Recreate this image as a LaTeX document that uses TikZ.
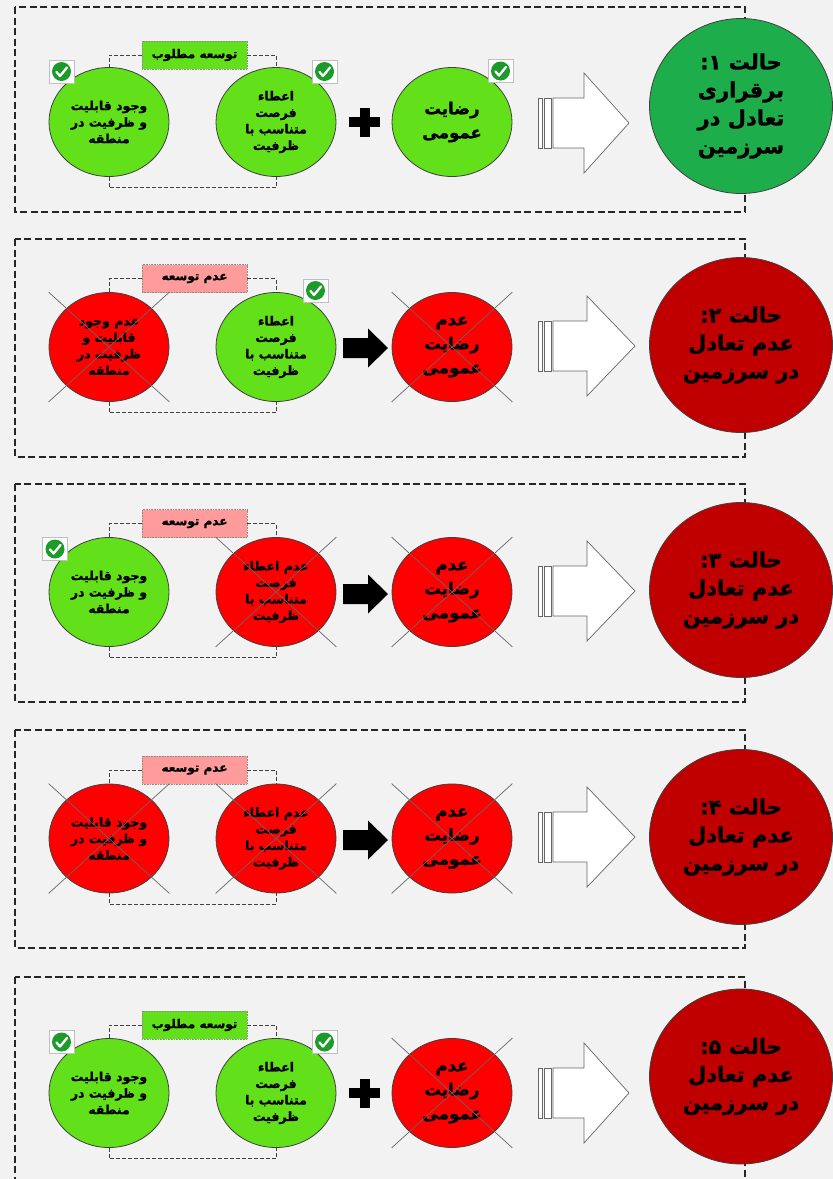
\documentclass[tikz,border=0pt]{standalone}
\usepackage{fontspec}
\newfontfamily\arb[Script=Arabic,BoldFeatures={FakeBold=1.3}]{DejaVu Sans}
\TeXXeTstate=1
\usetikzlibrary{shapes.geometric}
\definecolor{bgc}{HTML}{F2F2F2}
\definecolor{lgreen}{HTML}{62E01A}
\definecolor{dgreen}{HTML}{1DAE4B}
\definecolor{bred}{HTML}{FF0000}
\definecolor{dred}{HTML}{C00000}
\definecolor{pinkl}{HTML}{FF9B9B}
\definecolor{chkg}{HTML}{1C9A2A}
\newcommand\rl[1]{\beginR #1\endR}
\tikzset{
 rowbox/.style={draw=black!85,line width=1.5pt,dash pattern=on 7pt off 3.5pt},
 brk/.style={draw=black!75,line width=1pt,dash pattern=on 4pt off 2pt},
 smallc/.style={ellipse,draw=black!75,line width=0.8pt,minimum width=120pt,minimum height=109pt,inner sep=0pt,align=center,font=\arb\bfseries\fontsize{12.5}{16.5}\selectfont},
 good/.style={smallc,fill=lgreen},
 bad/.style={smallc,fill=bred},
 bigtxt/.style={font=\arb\bfseries\fontsize{16.5}{24}\selectfont},
 bigc/.style={ellipse,draw=black!75,line width=0.8pt,minimum width=183pt,minimum height=175pt,inner sep=0pt,align=center,font=\arb\bfseries\fontsize{21}{28}\selectfont},
 lbl/.style={rectangle,draw=black!45,densely dotted,line width=0.6pt,minimum width=105pt,minimum height=28pt,inner sep=0pt,font=\arb\bfseries\fontsize{12}{14}\selectfont},
 crossln/.style={draw=black!60,line width=0.7pt},
 harrow/.style={draw=black!60,line width=0.7pt,fill=white},
 chk/.pic={
   \draw[draw=black!25,fill=white,line width=0.6pt] (-12.5,-11.5) rectangle (12.5,11.5);
   \fill[chkg] (0,0) circle (9.5pt);
   \draw[white,line width=2.3pt,line cap=round,line join=round] (-5,0.5) -- (-1.5,4.5) -- (5.5,-4);
 }
}
\newcommand\hollow[3]{%
 \draw[harrow] (538,#1-25) rectangle (542,#1+25);
 \draw[harrow] (544,#1-25) rectangle (551,#1+25);
 \draw[harrow] (553,#1-25) -- (#2,#1-25) -- (#2,#1-50) -- (#3,#1) -- (#2,#1+50) -- (#2,#1+25) -- (553,#1+25) -- cycle;}
\newcommand\plussign[1]{%
 \fill[black] (349,#1-5) rectangle (380,#1+5);
 \fill[black] (360,#1-14.5) rectangle (370,#1+14.5);}
\newcommand\blkarrow[1]{%
 \fill[black] (343,#1-10) -- (368,#1-10) -- (368,#1-19.5) -- (388,#1) -- (368,#1+19.5) -- (368,#1+10) -- (343,#1+10) -- cycle;}
\newcommand\xout[1]{%
 \draw[crossln] (#1.west|-#1.north) -- (#1.east|-#1.south);
 \draw[crossln] (#1.east|-#1.north) -- (#1.west|-#1.south);}
\newcommand\bracket[3]{% label, left circle, right circle
 \draw[brk] (#1.west) -| (#2.north);
 \draw[brk] (#1.east) -| (#3.north);
 \draw[brk] (#2.south) -- ++(0,11) -| (#3.south);}
\newcommand\txA{\rl{وجود قابلیت}\\\rl{و ظرفیت در}\\\rl{منطقه}}
\newcommand\txNA{\rl{عدم وجود}\\\rl{قابلیت و}\\\rl{ظرفیت در}\\\rl{منطقه}}
\newcommand\txB{\rl{اعطاء}\\\rl{فرصت}\\\rl{متناسب با}\\\rl{ظرفیت}}
\newcommand\txNB{\rl{عدم اعطاء}\\\rl{فرصت}\\\rl{متناسب با}\\\rl{ظرفیت}}
\newcommand\txC{\rl{رضایت}\\\rl{عمومی}}
\newcommand\txNC{\rl{عدم}\\\rl{رضایت}\\\rl{عمومی}}
\newcommand\txBad[1]{\rl{حالت \hbox{#1}\hbox{:}}\\\rl{عدم تعادل}\\\rl{در سرزمین}}
\begin{document}
\begin{tikzpicture}[x=1pt,y=-1pt]
\useasboundingbox (0,0) rectangle (833,1179);
\clip (0,0) rectangle (833,1179);
\fill[bgc] (0,0) rectangle (833,1179);

%% ---------- Row 1 ----------
\draw[rowbox] (15,7) rectangle (745,212);
\node[good] (A1) at (109,122) {\txA};
\node[good] (B1) at (276,122) {\txB};
\node[good,bigtxt] (C1) at (452,122) {\txC};
\node[lbl,fill=lgreen] (L1) at (194.5,55) {\rl{توسعه مطلوب}};
\bracket{L1}{A1}{B1}
\plussign{122}
\hollow{123}{584}{629}
\node[bigc,fill=dgreen] (S1) at (741,106) {\rl{حالت \hbox{۱}\hbox{:}}\\\rl{برقراری}\\\rl{تعادل در}\\\rl{سرزمین}};
\pic at (61.5,71.5) {chk};
\pic at (324.5,71.5) {chk};
\pic at (500.5,71) {chk};

%% ---------- Row 2 ----------
\draw[rowbox] (15,239) rectangle (745,457);
\node[bad] (A2) at (109,347) {\txNA};
\node[good] (B2) at (276,347) {\txB};
\node[bad,bigtxt] (C2) at (452,347) {\txNC};
\node[lbl,fill=pinkl] (L2) at (194.5,278.5) {\rl{عدم توسعه}};
\bracket{L2}{A2}{B2}
\xout{A2}
\xout{C2}
\blkarrow{348}
\hollow{346}{587}{635}
\node[bigc,fill=dred] (S2) at (741,345) {\txBad{۲}};
\pic at (315.5,290.5) {chk};

%% ---------- Row 3 ----------
\draw[rowbox] (15,484) rectangle (745,702);
\node[good] (A3) at (109,592) {\txA};
\node[bad] (B3) at (276,592) {\txNB};
\node[bad,bigtxt] (C3) at (452,592) {\txNC};
\node[lbl,fill=pinkl] (L3) at (194.5,523.5) {\rl{عدم توسعه}};
\bracket{L3}{A3}{B3}
\xout{B3}
\xout{C3}
\blkarrow{594}
\hollow{591}{587}{635}
\node[bigc,fill=dred] (S3) at (741,590) {\txBad{۳}};
\pic at (55,549) {chk};

%% ---------- Row 4 ----------
\draw[rowbox] (15,730) rectangle (745,948);
\node[bad] (A4) at (109,838.5) {\txA};
\node[bad] (B4) at (276,838.5) {\txNB};
\node[bad,bigtxt] (C4) at (452,838.5) {\txNC};
\node[lbl,fill=pinkl] (L4) at (194.5,770) {\rl{عدم توسعه}};
\bracket{L4}{A4}{B4}
\xout{A4}
\xout{B4}
\xout{C4}
\blkarrow{840}
\hollow{837}{587}{635}
\node[bigc,fill=dred] (S4) at (741,837) {\txBad{۴}};

%% ---------- Row 5 ----------
\draw[rowbox] (15,977) rectangle (745,1200);
\node[good] (A5) at (109,1093) {\txA};
\node[good] (B5) at (276,1093) {\txB};
\node[bad,bigtxt] (C5) at (452,1093) {\txNC};
\node[lbl,fill=lgreen] (L5) at (194.5,1025) {\rl{توسعه مطلوب}};
\bracket{L5}{A5}{B5}
\xout{C5}
\plussign{1093}
\hollow{1093}{584}{629}
\node[bigc,fill=dred] (S5) at (741,1076.5) {\txBad{۵}};
\pic at (61.5,1042) {chk};
\pic at (324.5,1042) {chk};
\end{tikzpicture}
\end{document}
